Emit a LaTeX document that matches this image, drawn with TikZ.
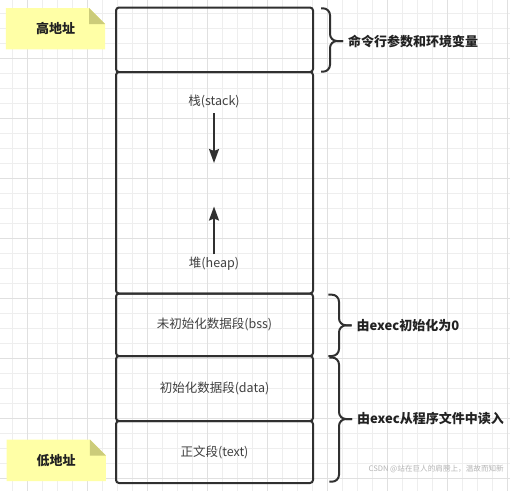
\documentclass[tikz,border=0pt]{standalone}
\usepackage{fontspec}
\newfontfamily\cjk{Noto Sans CJK SC}
\usepackage{xcolor}
\definecolor{colLine}{HTML}{303030}
\definecolor{colText}{HTML}{404040}
\definecolor{colDark}{HTML}{222222}
\definecolor{colNote}{HTML}{FFFFA6}
\definecolor{colFold}{HTML}{CCCC7A}
\definecolor{colGrid}{HTML}{EEEEEE}
\definecolor{colGridMaj}{HTML}{E0E0E0}
\definecolor{colMark}{HTML}{B4B4B4}
\usepackage{tikz}
\usetikzlibrary{arrows.meta, positioning, backgrounds}

\tikzset{
  seg/.style={draw=colLine, line width=2pt, rounded corners=3pt, minimum width=197pt,
    inner sep=0pt, outer sep=0pt, text=colText, font=\cjk\fontsize{12.5}{15}\selectfont},
  segtxt/.style={text=colText, inner sep=2pt, font=\cjk\fontsize{12.5}{15}\selectfont},
  growarrow/.style={draw=colLine, line width=2pt, -{Stealth[length=14pt, width=10pt, inset=2pt]}},
  graffa/.style={draw=colLine, line width=2pt, rounded corners=7pt},
  graffalbl/.style={text=colDark, inner sep=0pt, font=\cjk\bfseries\fontsize{13}{15}\selectfont},
  nota/.style={minimum width=99pt, minimum height=41pt, inner sep=0pt, text=colDark,
    font=\cjk\bfseries\fontsize{13}{15}\selectfont},
}

\begin{document}
\begin{tikzpicture}[x=1pt, y=-1pt]
    \useasboundingbox (0,0) rectangle (510,491);
    % Sfondo con griglia
    \begin{scope}[on background layer]
        \fill[white] (0,0) rectangle (510,491);
        \foreach \i in {0,...,33}{
            \draw[colGrid, line width=1pt] ({12.3+15*\i},0) -- ({12.3+15*\i},491);}
        \foreach \i in {0,...,32}{
            \draw[colGrid, line width=1pt] (0,{13.3+15*\i}) -- (510,{13.3+15*\i});}
        \foreach \i in {0,...,8}{
            \draw[colGridMaj, line width=1pt] ({27.3+60*\i},0) -- ({27.3+60*\i},491);
            \draw[colGridMaj, line width=1pt] (0,{58.3+60*\i}) -- (510,{58.3+60*\i});}
    \end{scope}
    % Segmenti di memoria
    \node[seg, minimum height=64.5pt] (argsSeg) at (214.5,39.75) {};
    \node[seg, minimum height=221.5pt, below=0pt of argsSeg] (stackHeapSeg) {};
    \node[seg, minimum height=62.5pt, below=0pt of stackHeapSeg] (bssSeg) {未初始化数据段(bss)};
    \node[seg, minimum height=65pt, below=0pt of bssSeg] (dataSeg) {初始化数据段(data)};
    \node[seg, minimum height=62pt, below=0pt of dataSeg] (textSeg) {正文段(text)};
    % Stack e heap
    \node[segtxt] (stackLbl) at (214,101.7) {栈(stack)};
    \node[segtxt] (heapLbl) at (214,263.3) {堆(heap)};
    \coordinate (stackEnd) at (214,163);
    \coordinate (heapEnd) at (214,206.5);
    \draw[growarrow, shorten <=3pt] (stackLbl) -- (stackEnd);
    \draw[growarrow] (heapLbl) -- (heapEnd);
    % Parentesi graffe
    \coordinate (tipArgs) at (343,41);
    \coordinate (tipBss) at (351.5,325.3);
    \coordinate (tipLoad) at (352,419);
    \draw[graffa] (321,8.3) -| (330,41) -- (tipArgs);
    \draw[graffa] (321,71.7) -| (330,41) -- (tipArgs);
    \draw[graffa] (328.3,294.7) -| (339,325.3) -- (tipBss);
    \draw[graffa] (328.3,356) -| (339,325.3) -- (tipBss);
    \draw[graffa] (329.3,357.5) -| (339,419) -- (tipLoad);
    \draw[graffa] (329.3,481.7) -| (339,419) -- (tipLoad);
    \node[graffalbl, right=5pt of tipArgs] (argsLbl) {命令行参数和环境变量};
    \node[graffalbl, right=5pt of tipBss] (bssLbl) {由exec初始化为0};
    \node[graffalbl, right=5pt of tipLoad] (loadLbl) {由exec从程序文件中读入};
    % Note gialle
    \node[nota] (hiNote) at (55.5,28.7) {高地址};
    \node[nota] (loNote) at (56.2,460.3) {低地址};
    \begin{scope}[on background layer]
        \foreach \n in {hiNote, loNote}{
            \fill[colNote] (\n.north west) -- ([xshift=-16pt]\n.north east)
                -- ([yshift=-16pt]\n.north east) -- (\n.south east) -- (\n.south west) -- cycle;
            \fill[colFold] ([xshift=-16pt]\n.north east) -- ([yshift=-16pt]\n.north east)
                -- ([xshift=-16pt, yshift=-16pt]\n.north east) -- cycle;}
    \end{scope}
    % Filigrana
    \node[colMark, inner sep=0pt, font=\cjk\fontsize{7.6}{9}\selectfont, anchor=east] (mark) at (504,468.5) {CSDN @站在巨人的肩膀上，温故而知新};
\end{tikzpicture}
\end{document}
